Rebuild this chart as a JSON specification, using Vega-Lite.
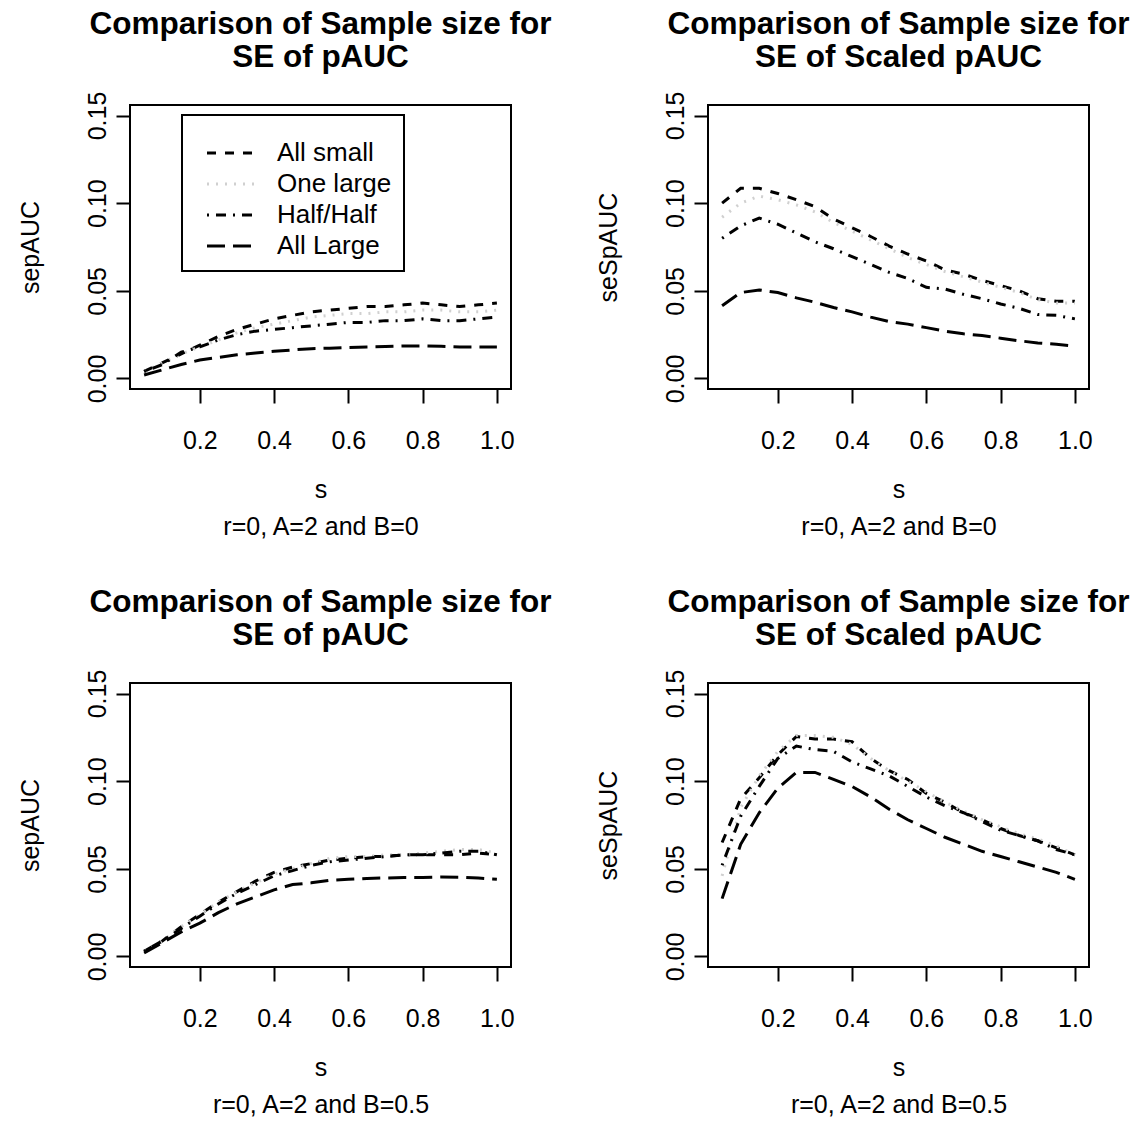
{
  "$schema": "https://vega.github.io/schema/vega-lite/v6.json",
  "background": "white",
  "padding": {"left": 17, "top": 7, "right": 5, "bottom": 5},
  "bounds": "flush",
  "columns": 2,
  "spacing": {"column": 197, "row": 294},
  "datasets": {
    "pauc_b0": [
      {"s": 0.05, "All small": 0.004, "One large": 0.004, "Half/Half": 0.004, "All Large": 0.002},
      {"s": 0.10, "All small": 0.009, "One large": 0.009, "Half/Half": 0.008, "All Large": 0.005},
      {"s": 0.15, "All small": 0.014, "One large": 0.014, "Half/Half": 0.015, "All Large": 0.008},
      {"s": 0.20, "All small": 0.019, "One large": 0.018, "Half/Half": 0.018, "All Large": 0.0105},
      {"s": 0.25, "All small": 0.024, "One large": 0.022, "Half/Half": 0.022, "All Large": 0.012},
      {"s": 0.30, "All small": 0.028, "One large": 0.026, "Half/Half": 0.025, "All Large": 0.0135},
      {"s": 0.35, "All small": 0.031, "One large": 0.029, "Half/Half": 0.027, "All Large": 0.0145},
      {"s": 0.40, "All small": 0.034, "One large": 0.031, "Half/Half": 0.028, "All Large": 0.0155},
      {"s": 0.45, "All small": 0.036, "One large": 0.033, "Half/Half": 0.029, "All Large": 0.0163},
      {"s": 0.50, "All small": 0.038, "One large": 0.035, "Half/Half": 0.030, "All Large": 0.017},
      {"s": 0.55, "All small": 0.039, "One large": 0.036, "Half/Half": 0.031, "All Large": 0.0173},
      {"s": 0.60, "All small": 0.040, "One large": 0.037, "Half/Half": 0.032, "All Large": 0.0177},
      {"s": 0.65, "All small": 0.041, "One large": 0.037, "Half/Half": 0.032, "All Large": 0.018},
      {"s": 0.70, "All small": 0.041, "One large": 0.038, "Half/Half": 0.033, "All Large": 0.0182},
      {"s": 0.75, "All small": 0.042, "One large": 0.038, "Half/Half": 0.033, "All Large": 0.0185},
      {"s": 0.80, "All small": 0.043, "One large": 0.039, "Half/Half": 0.034, "All Large": 0.0186},
      {"s": 0.85, "All small": 0.042, "One large": 0.039, "Half/Half": 0.033, "All Large": 0.0184},
      {"s": 0.90, "All small": 0.041, "One large": 0.038, "Half/Half": 0.033, "All Large": 0.018},
      {"s": 0.95, "All small": 0.042, "One large": 0.038, "Half/Half": 0.034, "All Large": 0.018},
      {"s": 1.00, "All small": 0.043, "One large": 0.039, "Half/Half": 0.035, "All Large": 0.018}
    ],
    "spauc_b0": [
      {"s": 0.05, "All small": 0.100, "One large": 0.092, "Half/Half": 0.080, "All Large": 0.0415},
      {"s": 0.10, "All small": 0.1085, "One large": 0.100, "Half/Half": 0.087, "All Large": 0.049},
      {"s": 0.15, "All small": 0.1085, "One large": 0.104, "Half/Half": 0.0915, "All Large": 0.0505},
      {"s": 0.20, "All small": 0.1055, "One large": 0.102, "Half/Half": 0.088, "All Large": 0.049},
      {"s": 0.25, "All small": 0.102, "One large": 0.099, "Half/Half": 0.083, "All Large": 0.046},
      {"s": 0.30, "All small": 0.098, "One large": 0.095, "Half/Half": 0.078, "All Large": 0.0435},
      {"s": 0.35, "All small": 0.091, "One large": 0.089, "Half/Half": 0.074, "All Large": 0.0405},
      {"s": 0.40, "All small": 0.086, "One large": 0.084, "Half/Half": 0.0695, "All Large": 0.038},
      {"s": 0.45, "All small": 0.081, "One large": 0.079, "Half/Half": 0.065, "All Large": 0.035},
      {"s": 0.50, "All small": 0.0755, "One large": 0.074, "Half/Half": 0.0605, "All Large": 0.0325},
      {"s": 0.55, "All small": 0.071, "One large": 0.069, "Half/Half": 0.057, "All Large": 0.031},
      {"s": 0.60, "All small": 0.067, "One large": 0.065, "Half/Half": 0.052, "All Large": 0.029},
      {"s": 0.65, "All small": 0.062, "One large": 0.061, "Half/Half": 0.051, "All Large": 0.027},
      {"s": 0.70, "All small": 0.0595, "One large": 0.058, "Half/Half": 0.048, "All Large": 0.0255},
      {"s": 0.75, "All small": 0.056, "One large": 0.055, "Half/Half": 0.0455, "All Large": 0.0245},
      {"s": 0.80, "All small": 0.053, "One large": 0.052, "Half/Half": 0.0425, "All Large": 0.023},
      {"s": 0.85, "All small": 0.050, "One large": 0.049, "Half/Half": 0.040, "All Large": 0.0215},
      {"s": 0.90, "All small": 0.0455, "One large": 0.045, "Half/Half": 0.0365, "All Large": 0.0203},
      {"s": 0.95, "All small": 0.044, "One large": 0.043, "Half/Half": 0.036, "All Large": 0.0195},
      {"s": 1.00, "All small": 0.044, "One large": 0.043, "Half/Half": 0.034, "All Large": 0.0185}
    ],
    "pauc_b05": [
      {"s": 0.05, "All small": 0.003, "One large": 0.003, "Half/Half": 0.003, "All Large": 0.002},
      {"s": 0.10, "All small": 0.009, "One large": 0.009, "Half/Half": 0.009, "All Large": 0.008},
      {"s": 0.15, "All small": 0.017, "One large": 0.017, "Half/Half": 0.016, "All Large": 0.014},
      {"s": 0.20, "All small": 0.024, "One large": 0.024, "Half/Half": 0.023, "All Large": 0.019},
      {"s": 0.25, "All small": 0.031, "One large": 0.031, "Half/Half": 0.030, "All Large": 0.025},
      {"s": 0.30, "All small": 0.037, "One large": 0.037, "Half/Half": 0.036, "All Large": 0.030},
      {"s": 0.35, "All small": 0.043, "One large": 0.042, "Half/Half": 0.041, "All Large": 0.034},
      {"s": 0.40, "All small": 0.048, "One large": 0.047, "Half/Half": 0.046, "All Large": 0.038},
      {"s": 0.45, "All small": 0.051, "One large": 0.050, "Half/Half": 0.049, "All Large": 0.041},
      {"s": 0.50, "All small": 0.053, "One large": 0.053, "Half/Half": 0.052, "All Large": 0.042},
      {"s": 0.55, "All small": 0.055, "One large": 0.056, "Half/Half": 0.054, "All Large": 0.0435},
      {"s": 0.60, "All small": 0.056, "One large": 0.057, "Half/Half": 0.055, "All Large": 0.044},
      {"s": 0.65, "All small": 0.057, "One large": 0.057, "Half/Half": 0.056, "All Large": 0.0445},
      {"s": 0.70, "All small": 0.057, "One large": 0.058, "Half/Half": 0.057, "All Large": 0.0448},
      {"s": 0.75, "All small": 0.058, "One large": 0.058, "Half/Half": 0.058, "All Large": 0.045},
      {"s": 0.80, "All small": 0.058, "One large": 0.059, "Half/Half": 0.058, "All Large": 0.045},
      {"s": 0.85, "All small": 0.058, "One large": 0.060, "Half/Half": 0.059, "All Large": 0.0453},
      {"s": 0.90, "All small": 0.058, "One large": 0.061, "Half/Half": 0.060, "All Large": 0.0452},
      {"s": 0.95, "All small": 0.059, "One large": 0.061, "Half/Half": 0.060, "All Large": 0.0447},
      {"s": 1.00, "All small": 0.058, "One large": 0.059, "Half/Half": 0.058, "All Large": 0.044}
    ],
    "spauc_b05": [
      {"s": 0.05, "All small": 0.065, "One large": 0.046, "Half/Half": 0.052, "All Large": 0.033},
      {"s": 0.10, "All small": 0.090, "One large": 0.085, "Half/Half": 0.080, "All Large": 0.064},
      {"s": 0.15, "All small": 0.102, "One large": 0.103, "Half/Half": 0.097, "All Large": 0.082},
      {"s": 0.20, "All small": 0.115, "One large": 0.117, "Half/Half": 0.113, "All Large": 0.096},
      {"s": 0.25, "All small": 0.1255, "One large": 0.126, "Half/Half": 0.120, "All Large": 0.105},
      {"s": 0.30, "All small": 0.124, "One large": 0.126, "Half/Half": 0.118, "All Large": 0.105},
      {"s": 0.35, "All small": 0.124, "One large": 0.125, "Half/Half": 0.117, "All Large": 0.101},
      {"s": 0.40, "All small": 0.1225, "One large": 0.121, "Half/Half": 0.111, "All Large": 0.097},
      {"s": 0.45, "All small": 0.113, "One large": 0.113, "Half/Half": 0.107, "All Large": 0.091},
      {"s": 0.50, "All small": 0.106, "One large": 0.106, "Half/Half": 0.103, "All Large": 0.084},
      {"s": 0.55, "All small": 0.101, "One large": 0.100, "Half/Half": 0.097, "All Large": 0.078},
      {"s": 0.60, "All small": 0.093, "One large": 0.094, "Half/Half": 0.091, "All Large": 0.073},
      {"s": 0.65, "All small": 0.088, "One large": 0.088, "Half/Half": 0.086, "All Large": 0.068},
      {"s": 0.70, "All small": 0.082, "One large": 0.083, "Half/Half": 0.082, "All Large": 0.064},
      {"s": 0.75, "All small": 0.078, "One large": 0.078, "Half/Half": 0.077, "All Large": 0.060},
      {"s": 0.80, "All small": 0.073, "One large": 0.074, "Half/Half": 0.072, "All Large": 0.057},
      {"s": 0.85, "All small": 0.069, "One large": 0.070, "Half/Half": 0.069, "All Large": 0.054},
      {"s": 0.90, "All small": 0.066, "One large": 0.067, "Half/Half": 0.066, "All Large": 0.051},
      {"s": 0.95, "All small": 0.062, "One large": 0.063, "Half/Half": 0.061, "All Large": 0.048},
      {"s": 1.00, "All small": 0.058, "One large": 0.058, "Half/Half": 0.058, "All Large": 0.044}
    ]
  },
  "resolve": {"legend": {"strokeDash": "independent", "color": "independent"}},
  "concat": [
    {
      "title": {"text": ["Comparison of Sample size for", "SE of pAUC"]},
      "width": 381, "height": 284,
      "data": {"name": "pauc_b0"},
      "transform": [{"fold": ["All small", "One large", "Half/Half", "All Large"], "as": ["series", "value"]}],
      "mark": {"type": "line", "strokeWidth": 3},
      "encoding": {
        "x": {"field": "s", "type": "quantitative", "scale": {"domain": [0.012, 1.038], "nice": false, "zero": false},
              "axis": {"values": [0.2, 0.4, 0.6, 0.8, 1.0], "format": ".1f", "title": ["s", "r=0, A=2 and B=0"]}},
        "y": {"field": "value", "type": "quantitative", "scale": {"domain": [-0.006, 0.156], "nice": false, "zero": false},
              "axis": {"values": [0, 0.05, 0.1, 0.15], "format": ".2f", "title": "sepAUC"}},
        "strokeDash": {"field": "series", "type": "nominal",
          "scale": {"domain": ["All small", "One large", "Half/Half", "All Large"], "range": [[9, 9], [2, 7], [2, 7, 10, 7], [18, 8]]},
          "legend": {"title": " ", "orient": "none", "legendX": 52, "legendY": 10,
                     "encode": {"legend": {"update": {"strokeWidth": {"value": 2}}}}}},
        "color": {"field": "series", "type": "nominal",
          "scale": {"domain": ["All small", "One large", "Half/Half", "All Large"], "range": ["#000000", "#d0d0d0", "#000000", "#000000"]},
          "legend": {"title": " ", "orient": "none", "legendX": 52, "legendY": 10,
                     "encode": {"legend": {"update": {"strokeWidth": {"value": 2}}}}}}
      }
    },
    {
      "title": {"text": ["Comparison of Sample size for", "SE of Scaled pAUC"]},
      "width": 381, "height": 284,
      "data": {"name": "spauc_b0"},
      "transform": [{"fold": ["All small", "One large", "Half/Half", "All Large"], "as": ["series", "value"]}],
      "mark": {"type": "line", "strokeWidth": 3},
      "encoding": {
        "x": {"field": "s", "type": "quantitative", "scale": {"domain": [0.012, 1.038], "nice": false, "zero": false},
              "axis": {"values": [0.2, 0.4, 0.6, 0.8, 1.0], "format": ".1f", "title": ["s", "r=0, A=2 and B=0"]}},
        "y": {"field": "value", "type": "quantitative", "scale": {"domain": [-0.006, 0.156], "nice": false, "zero": false},
              "axis": {"values": [0, 0.05, 0.1, 0.15], "format": ".2f", "title": "seSpAUC"}},
        "strokeDash": {"field": "series", "type": "nominal",
          "scale": {"domain": ["All small", "One large", "Half/Half", "All Large"], "range": [[9, 9], [2, 7], [2, 7, 10, 7], [18, 8]]},
          "legend": null},
        "color": {"field": "series", "type": "nominal",
          "scale": {"domain": ["All small", "One large", "Half/Half", "All Large"], "range": ["#000000", "#d0d0d0", "#000000", "#000000"]},
          "legend": null}
      }
    },
    {
      "title": {"text": ["Comparison of Sample size for", "SE of pAUC"]},
      "width": 381, "height": 284,
      "data": {"name": "pauc_b05"},
      "transform": [{"fold": ["All small", "One large", "Half/Half", "All Large"], "as": ["series", "value"]}],
      "mark": {"type": "line", "strokeWidth": 3},
      "encoding": {
        "x": {"field": "s", "type": "quantitative", "scale": {"domain": [0.012, 1.038], "nice": false, "zero": false},
              "axis": {"values": [0.2, 0.4, 0.6, 0.8, 1.0], "format": ".1f", "title": ["s", "r=0, A=2 and B=0.5"]}},
        "y": {"field": "value", "type": "quantitative", "scale": {"domain": [-0.006, 0.156], "nice": false, "zero": false},
              "axis": {"values": [0, 0.05, 0.1, 0.15], "format": ".2f", "title": "sepAUC"}},
        "strokeDash": {"field": "series", "type": "nominal",
          "scale": {"domain": ["All small", "One large", "Half/Half", "All Large"], "range": [[9, 9], [2, 7], [2, 7, 10, 7], [18, 8]]},
          "legend": null},
        "color": {"field": "series", "type": "nominal",
          "scale": {"domain": ["All small", "One large", "Half/Half", "All Large"], "range": ["#000000", "#d0d0d0", "#000000", "#000000"]},
          "legend": null}
      }
    },
    {
      "title": {"text": ["Comparison of Sample size for", "SE of Scaled pAUC"]},
      "width": 381, "height": 284,
      "data": {"name": "spauc_b05"},
      "transform": [{"fold": ["All small", "One large", "Half/Half", "All Large"], "as": ["series", "value"]}],
      "mark": {"type": "line", "strokeWidth": 3},
      "encoding": {
        "x": {"field": "s", "type": "quantitative", "scale": {"domain": [0.012, 1.038], "nice": false, "zero": false},
              "axis": {"values": [0.2, 0.4, 0.6, 0.8, 1.0], "format": ".1f", "title": ["s", "r=0, A=2 and B=0.5"]}},
        "y": {"field": "value", "type": "quantitative", "scale": {"domain": [-0.006, 0.156], "nice": false, "zero": false},
              "axis": {"values": [0, 0.05, 0.1, 0.15], "format": ".2f", "title": "seSpAUC"}},
        "strokeDash": {"field": "series", "type": "nominal",
          "scale": {"domain": ["All small", "One large", "Half/Half", "All Large"], "range": [[9, 9], [2, 7], [2, 7, 10, 7], [18, 8]]},
          "legend": null},
        "color": {"field": "series", "type": "nominal",
          "scale": {"domain": ["All small", "One large", "Half/Half", "All Large"], "range": ["#000000", "#d0d0d0", "#000000", "#000000"]},
          "legend": null}
      }
    }
  ],
  "config": {
    "font": "Liberation Sans",
    "view": {"stroke": "#000000", "strokeWidth": 2},
    "title": {"font": "Liberation Sans", "fontSize": 31.5, "fontWeight": "bold", "color": "#000000", "lineHeight": 33, "anchor": "middle", "offset": 18},
    "axis": {
      "domain": false, "grid": false,
      "tickColor": "#000000", "tickWidth": 2, "tickSize": 14,
      "labelFont": "Liberation Sans", "labelFontSize": 25, "labelColor": "#000000",
      "titleFont": "Liberation Sans", "titleFontSize": 25, "titleFontWeight": "normal", "titleColor": "#000000"
    },
    "axisX": {"labelPadding": 25, "titlePadding": 24, "titleLineHeight": 37},
    "axisY": {"labelAngle": 270, "labelAlign": "center", "labelBaseline": "bottom", "labelPadding": 6, "titlePadding": 42},
    "legend": {
      "strokeColor": "#000000", "padding": 12, "symbolType": "M-2,0H2", "symbolSize": 625, "symbolStrokeWidth": 3,
      "symbolOffset": 24,
      "titleFontSize": 8, "titlePadding": 4, "titleLineHeight": 8,
      "labelFont": "Liberation Sans", "labelFontSize": 26, "labelColor": "#000000", "labelOffset": 31, "rowPadding": 4
    }
  }
}
